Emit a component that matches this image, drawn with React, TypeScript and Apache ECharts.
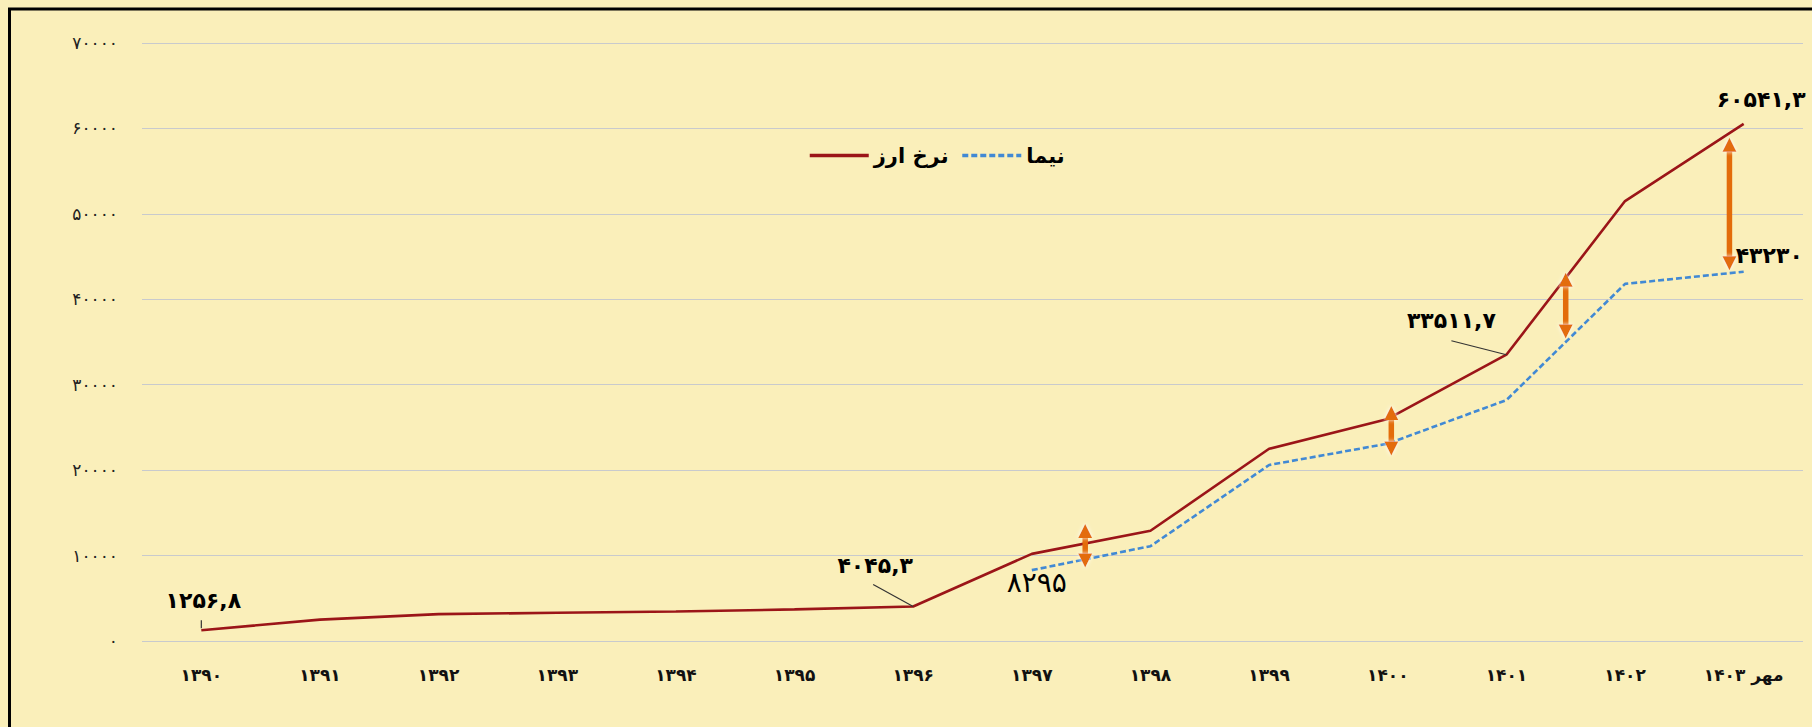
import React, { useEffect, useRef } from "react";
import * as echarts from "echarts";

// ---------- data ----------
const categories: string[] = [
  "۱۳۹۰", "۱۳۹۱", "۱۳۹۲", "۱۳۹۳", "۱۳۹۴", "۱۳۹۵", "۱۳۹۶",
  "۱۳۹۷", "۱۳۹۸", "۱۳۹۹", "۱۴۰۰", "۱۴۰۱", "۱۴۰۲", "مهر ۱۴۰۳",
];
const rateName = "نرخ ارز";
const nimaName = "نیما";
const rateValues: (number | null)[] = [
  1256.8, 2500, 3150, 3300, 3450, 3700, 4045.3, 10200, 12900, 22500, 26000, 33511.7, 51500, 60541.3,
];
const nimaValues: (number | null)[] = [
  null, null, null, null, null, null, null, 8295, 11100, 20600, 23100, 28200, 41800, 43230,
];
const yTicks: number[] = [0, 10000, 20000, 30000, 40000, 50000, 60000, 70000];
// gap arrows: [category position, top value, bottom value]
const gapArrows: number[][] = [
  [7.45, 13700, 8600],
  [10.03, 27500, 21700],
  [11.5, 43100, 35400],
  [12.88, 58900, 43400],
];
// annotated points: series and index
const annotatedPoints: { series: "rate" | "nima"; index: number }[] = [
  { series: "rate", index: 0 },
  { series: "rate", index: 6 },
  { series: "nima", index: 7 },
  { series: "rate", index: 11 },
  { series: "rate", index: 13 },
  { series: "nima", index: 13 },
];

// ---------- styles ----------
const annotationStyles = [
  { dx: 2, dy: -30, align: "center", font: 'bold 22px "DejaVu Sans"', leader: [0, -2, 0, -10] },
  { dx: -38, dy: -41, align: "center", font: 'bold 22px "DejaVu Sans"', leader: [0, 0, -40, -22] },
  { dx: 5, dy: 12, align: "center", font: 'normal 28px "DejaVu Sans"', leader: null },
  { dx: -55, dy: -34, align: "center", font: 'bold 22px "DejaVu Sans"', leader: [0, 0, -55, -14] },
  { dx: -27, dy: -24, align: "left", font: 'bold 22px "DejaVu Sans"', leader: null },
  { dx: -8, dy: -16, align: "left", font: 'bold 22px "DejaVu Sans"', leader: null },
];

const faDigits = "۰۱۲۳۴۵۶۷۸۹";
function toFa(s: string): string {
  return s.replace(/[0-9]/g, (d) => faDigits[Number(d)]).replace(/\./g, ",");
}

const BG = "#FAEFBA";
const ORANGE = "#E36C0A";

export default function App() {
  const ref = useRef<HTMLDivElement>(null);

  useEffect(() => {
    if (!ref.current) return;
    const chart = echarts.init(ref.current, null, { renderer: "svg" });

    const annData = annotatedPoints.map((a) => {
      const v = a.series === "rate" ? rateValues[a.index] : nimaValues[a.index];
      return [a.index, v as number];
    });

    const option: any = {
      animation: false,
      backgroundColor: BG,
      textStyle: { fontFamily: '"DejaVu Sans", sans-serif' },
      graphic: [
        {
          type: "rect",
          shape: { x: 9.5, y: 9, width: 2000, height: 1000 },
          style: { fill: "none", stroke: "#000", lineWidth: 3 },
          silent: true,
          z: 100,
        },
      ],
      grid: { left: 142, right: 9, top: 43, bottom: 86, containLabel: false },
      legend: {
        left: 803,
        top: 140,
        itemWidth: 59,
        itemHeight: 14,
        itemGap: 12,
        itemStyle: { opacity: 0 },
        lineStyle: { width: 3.5 },
        data: [rateName, nimaName],
        textStyle: { fontSize: 21, fontWeight: "bold", color: "#000", fontFamily: '"DejaVu Sans"' },
      },
      xAxis: [
        {
          type: "category",
          data: categories,
          boundaryGap: true,
          axisLine: { show: false },
          axisTick: { show: false },
          axisLabel: { margin: 25, fontSize: 17, fontWeight: "bold", color: "#111", fontFamily: '"DejaVu Sans"' },
        },
        {
          type: "value",
          min: -0.5,
          max: 13.5,
          show: false,
          splitLine: { show: false },
        },
      ],
      yAxis: {
        type: "value",
        min: 0,
        max: yTicks[yTicks.length - 1],
        interval: yTicks[1] - yTicks[0],
        axisLine: { show: false },
        axisTick: { show: false },
        splitLine: { lineStyle: { color: "#C8CACD", width: 1.2 } },
        axisLabel: {
          margin: 24,
          fontSize: 17,
          color: "#222",
          fontFamily: '"DejaVu Sans"',
          formatter: (v: number) => toFa(String(v)),
        },
      },
      series: [
        {
          name: rateName,
          type: "line",
          data: rateValues,
          symbol: "none",
          lineStyle: { color: "#9B1518", width: 2.6 },
          itemStyle: { color: "#9B1518" },
          z: 3,
        },
        {
          name: nimaName,
          type: "line",
          data: nimaValues,
          symbol: "none",
          connectNulls: false,
          lineStyle: { color: "#4189D4", width: 2.6, type: [6, 3] },
          itemStyle: { color: "#4189D4" },
          z: 2,
        },
        {
          type: "custom",
          xAxisIndex: 1,
          yAxisIndex: 0,
          data: gapArrows,
          silent: true,
          z: 5,
          renderItem: (params: any, api: any) => {
            const x = api.value(0);
            const p1 = api.coord([x, api.value(1)]);
            const p2 = api.coord([x, api.value(2)]);
            const h = 14;
            const w = 14;
            const glow = { shadowBlur: 4, shadowColor: "rgba(255,255,255,0.95)" };
            return {
              type: "group",
              children: [
                {
                  type: "rect",
                  shape: { x: p1[0] - 2.75, y: p1[1] + h - 2, width: 5.5, height: p2[1] - p1[1] - 2 * h + 4 },
                  style: { fill: ORANGE },
                },
                {
                  type: "polygon",
                  shape: { points: [[p1[0], p1[1]], [p1[0] - w / 2, p1[1] + h], [p1[0] + w / 2, p1[1] + h]] },
                  style: { fill: ORANGE, ...glow },
                },
                {
                  type: "polygon",
                  shape: { points: [[p2[0], p2[1]], [p2[0] - w / 2, p2[1] - h], [p2[0] + w / 2, p2[1] - h]] },
                  style: { fill: ORANGE, ...glow },
                },
              ],
            };
          },
        },
        {
          type: "custom",
          xAxisIndex: 1,
          yAxisIndex: 0,
          data: annData,
          silent: true,
          clip: false,
          z: 6,
          renderItem: (params: any, api: any) => {
            const i = params.dataIndex;
            const st = annotationStyles[i];
            const v = api.value(1);
            const p = api.coord([api.value(0), v]);
            const children: any[] = [];
            if (st.leader) {
              children.push({
                type: "line",
                shape: {
                  x1: p[0] + st.leader[0],
                  y1: p[1] + st.leader[1],
                  x2: p[0] + st.leader[2],
                  y2: p[1] + st.leader[3],
                },
                style: { stroke: "#333", lineWidth: 1.2 },
              });
            }
            children.push({
              type: "text",
              x: p[0] + st.dx,
              y: p[1] + st.dy,
              style: {
                text: toFa(String(v)),
                font: st.font,
                fill: "#000",
                align: st.align,
                verticalAlign: "middle",
                textAlign: st.align,
                textVerticalAlign: "middle",
              },
            });
            return { type: "group", children };
          },
        },
      ],
    };

    chart.setOption(option);
    return () => chart.dispose();
  }, []);

  return (
    <div
      ref={ref}
      style={{ position: "fixed", left: 0, top: 0, width: 1812, height: 727, background: BG }}
    />
  );
}
